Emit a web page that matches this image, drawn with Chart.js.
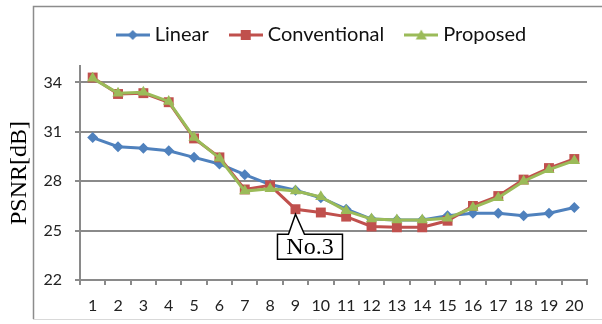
<!DOCTYPE html>
<html>
<head>
<meta charset="utf-8">
<script src="https://cdn.jsdelivr.net/npm/chart.js@4/dist/chart.umd.min.js"></script>
<style>
  html, body { margin: 0; padding: 0; background: #ffffff; }
  #wrap { position: relative; width: 602px; height: 324px; }
</style>
</head>
<body>
<div id="wrap"><canvas id="chart" width="602" height="324"></canvas></div>
<script>
// Image index 1..20
const categories = ['1','2','3','4','5','6','7','8','9','10','11','12','13','14','15','16','17','18','19','20'];

// PSNR [dB] per image
const linearPSNR       = [30.65, 30.1, 30.0, 29.85, 29.45, 29.05, 28.4, 27.8, 27.45, 27.0, 26.3, 25.7, 25.65, 25.65, 25.9, 26.05, 26.05, 25.9, 26.05, 26.4];
const conventionalPSNR = [34.3, 33.3, 33.35, 32.8, 30.6, 29.45, 27.5, 27.75, 26.3, 26.1, 25.85, 25.25, 25.2, 25.2, 25.6, 26.5, 27.1, 28.1, 28.8, 29.35];
const proposedPSNR     = [34.25, 33.35, 33.4, 32.85, 30.65, 29.4, 27.4, 27.55, 27.4, 27.05, 26.2, 25.7, 25.65, 25.65, 25.75, 26.4, 27.0, 28.0, 28.7, 29.25];

const yTicks = [22, 25, 28, 31, 34];
const yMin = 22, yMax = 35;

const calloutText = 'No.3';
const calloutIndex = 8;   // image 9 of the conventional series

const C_BLUE = '#4F81BD', C_RED = '#C0504D', C_GREEN = '#9BBB59';
const AXIS_GRAY = '#8a8a8a';

// Legend swatch: a short line with the series marker in its middle
function swatch(color, shape) {
  const c = document.createElement('canvas');
  c.width = 34; c.height = 14;
  const g = c.getContext('2d');
  g.strokeStyle = color; g.lineWidth = 3;
  g.beginPath(); g.moveTo(0, 7); g.lineTo(34, 7); g.stroke();
  g.fillStyle = color;
  g.beginPath();
  if (shape === 'diamond') {
    g.moveTo(17, 2); g.lineTo(22, 7); g.lineTo(17, 12); g.lineTo(12, 7);
  } else if (shape === 'square') {
    g.rect(12, 2, 10, 10);
  } else {
    g.moveTo(17, 1.5); g.lineTo(22.5, 11.5); g.lineTo(11.5, 11.5);
  }
  g.closePath(); g.fill();
  return c;
}

// Outer frame of the chart object
const framePlugin = {
  id: 'frame',
  beforeDraw(chart) {
    const ctx = chart.ctx;
    ctx.save();
    ctx.strokeStyle = '#d9d9d9'; ctx.lineWidth = 1;
    ctx.beginPath(); ctx.moveTo(33, 319.5); ctx.lineTo(602, 319.5); ctx.stroke();
    ctx.strokeStyle = '#8c8c8c'; ctx.lineWidth = 1.5;
    ctx.beginPath(); ctx.moveTo(33.5, 319); ctx.lineTo(33.5, 6.5); ctx.lineTo(602, 6.5); ctx.stroke();
    ctx.restore();
  }
};

// Legend block: fixed height, centred over the framed area
const legendPlacePlugin = {
  id: 'legendPlace',
  afterInit(chart) {
    const lg = chart.legend;
    if (!lg) return;
    const fit = lg.fit.bind(lg);
    lg.fit = function () { fit(); this.height = 66; };
  },
  afterLayout(chart) {
    if (chart.legend) chart.legend.left += 60;
  }
};

// Callout label pointing at one point of the conventional series
const calloutPlugin = {
  id: 'callout',
  afterDatasetsDraw(chart) {
    const meta = chart.getDatasetMeta(1);
    const pt = meta.data[calloutIndex];
    if (!pt) return;
    const ctx = chart.ctx;
    const px = pt.x, py = pt.y;
    const tipY = py + 5;
    const bx = px - 18, by = py + 25, bw = 65, bh = 25;
    ctx.save();
    ctx.lineWidth = 1.5;
    ctx.strokeStyle = '#000';
    ctx.fillStyle = '#fff';
    ctx.beginPath();
    ctx.moveTo(bx, by);
    ctx.lineTo(px - 7, by);
    ctx.lineTo(px, tipY);
    ctx.lineTo(px + 9, by);
    ctx.lineTo(bx + bw, by);
    ctx.lineTo(bx + bw, by + bh);
    ctx.lineTo(bx, by + bh);
    ctx.closePath();
    ctx.fill();
    ctx.stroke();
    ctx.fillStyle = '#000';
    ctx.font = '24px "Liberation Serif", "Times New Roman", serif';
    ctx.textAlign = 'center';
    ctx.textBaseline = 'middle';
    ctx.fillText(calloutText, bx + bw / 2, by + bh / 2 + 1);
    ctx.restore();
  }
};

const lineDefaults = { borderWidth: 3, pointBorderWidth: 0, tension: 0, fill: false };

new Chart(document.getElementById('chart'), {
  type: 'line',
  data: {
    labels: categories,
    datasets: [
      Object.assign({}, lineDefaults, {
        label: 'Linear', data: linearPSNR, order: 2,
        borderColor: C_BLUE, backgroundColor: C_BLUE,
        pointStyle: 'rectRot', pointRadius: 5.5, legendSwatch: swatch(C_BLUE, 'diamond')
      }),
      Object.assign({}, lineDefaults, {
        label: 'Conventional', data: conventionalPSNR, order: 1,
        borderColor: C_RED, backgroundColor: C_RED,
        pointStyle: 'rect', pointRadius: 7, legendSwatch: swatch(C_RED, 'square')
      }),
      Object.assign({}, lineDefaults, {
        label: 'Proposed', data: proposedPSNR, order: 0,
        borderColor: C_GREEN, backgroundColor: C_GREEN,
        pointStyle: 'triangle', pointRadius: 6.5, legendSwatch: swatch(C_GREEN, 'triangle')
      })
    ]
  },
  options: {
    responsive: false,
    animation: false,
    events: [],
    layout: { padding: { left: 0, right: 15, top: 0, bottom: 0 } },
    plugins: {
      tooltip: { enabled: false },
      legend: {
        display: true,
        position: 'top',
        labels: {
          usePointStyle: true,
          pointStyleWidth: 24,
          boxHeight: 14,
          padding: 25,
          color: '#111',
          font: { family: 'Lato, "Noto Sans", sans-serif', size: 20 },
          sort: (a, b) => a.datasetIndex - b.datasetIndex,
          generateLabels(chart) {
            return chart.data.datasets.map((ds, i) => ({
              text: ds.label,
              datasetIndex: i,
              pointStyle: ds.legendSwatch,
              fillStyle: ds.borderColor,
              strokeStyle: ds.borderColor,
              lineWidth: 0,
              hidden: false,
              fontColor: '#111'
            }));
          }
        }
      }
    },
    scales: {
      x: {
        type: 'category',
        offset: true,
        grid: {
          display: true,
          offset: true,
          drawOnChartArea: false,
          drawTicks: true,
          tickLength: 5,
          color: AXIS_GRAY,
          lineWidth: 2
        },
        border: { display: true, color: AXIS_GRAY, width: 2 },
        ticks: {
          color: '#222',
          padding: 11,
          maxRotation: 0,
          autoSkip: false,
          font: { family: 'Lato, "Noto Sans", sans-serif', size: 16 }
        },
        afterFit(s) { s.height = 44; }
      },
      y: {
        type: 'linear',
        min: yMin,
        max: yMax,
        afterBuildTicks(s) { s.ticks = yTicks.map(v => ({ value: v })); },
        grid: {
          display: true,
          drawTicks: true,
          tickLength: 5,
          color: AXIS_GRAY,
          lineWidth: 2
        },
        border: { display: true, color: AXIS_GRAY, width: 2 },
        ticks: {
          color: '#222',
          padding: 13,
          font: { family: 'Lato, "Noto Sans", sans-serif', size: 16 }
        },
        title: {
          display: true,
          text: 'PSNR[dB]',
          color: '#000',
          padding: { top: 5, bottom: 0 },
          font: { family: '"Liberation Serif", "Times New Roman", serif', size: 24 }
        },
        afterFit(s) { s.width = 80; }
      }
    }
  },
  plugins: [framePlugin, legendPlacePlugin, calloutPlugin]
});
</script>
</body>
</html>
